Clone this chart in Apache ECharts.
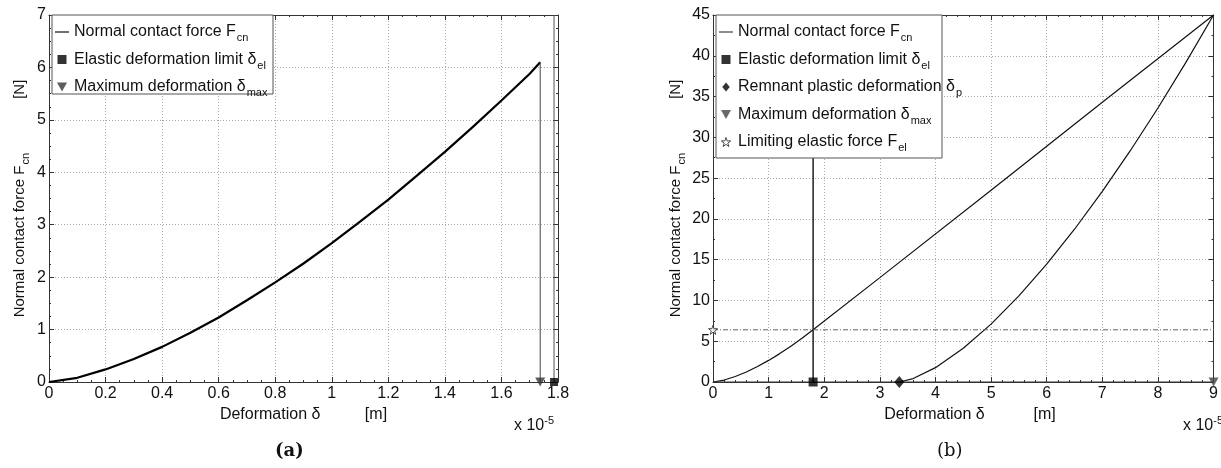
<!DOCTYPE html>
<html>
<head>
<meta charset="utf-8">
<script src="https://cdn.jsdelivr.net/npm/echarts@6/dist/echarts.min.js"></script>
<style>
  html, body { margin: 0; padding: 0; background: #fff; }
  #main { width: 1221px; height: 468px; }
</style>
</head>
<body>
<div id="main"></div>
<script>
// (a) elastic contact: loading curve (x 1e-5 m, N)
var deltaA = [0, 0.1, 0.2, 0.3, 0.4, 0.5, 0.6, 0.7, 0.8, 0.9, 1.0, 1.1, 1.2, 1.3, 1.4, 1.5, 1.6, 1.7, 1.737];
var forceA = [0, 0.08, 0.24, 0.44, 0.67, 0.94, 1.23, 1.56, 1.9, 2.26, 2.65, 3.06, 3.48, 3.93, 4.39, 4.87, 5.37, 5.88, 6.1];
var deltaMaxA = 1.737;
var deltaElA = 1.786;

// (b) elasto-plastic contact
var deltaLoadB = [0, 0.2, 0.4, 0.6, 0.8, 1.0, 1.2, 1.4, 1.6, 1.8, 3, 5, 7, 9];
var forceLoadB = [0, 0.24, 0.67, 1.23, 1.9, 2.65, 3.48, 4.39, 5.36, 6.4, 12.8, 23.5, 34.3, 45];
var deltaUnloadB = [3.35, 3.6, 4.0, 4.5, 5.0, 5.5, 6.0, 6.5, 7.0, 7.5, 8.0, 8.5, 9.0];
var forceUnloadB = [0, 0.42, 1.76, 4.13, 7.1, 10.56, 14.45, 18.73, 23.37, 28.33, 33.6, 39.16, 45];
var deltaElB = 1.8;
var deltaPB = 3.35;
var deltaMaxB = 9;
var forceElB = 6.4;

var FONT = '"Liberation Sans", Arial, sans-serif';
var rich = {
    sub: { fontSize: 11, fontFamily: FONT, padding: [11, 0, 0, 1] },
    sup: { fontSize: 11, fontFamily: FONT, padding: [0, 0, 10, 0] }
};
var richLeg = {
    sub: { fontSize: 11, fontFamily: FONT, padding: [12, 0, 0, 1] }
};

function pairs(xs, ys) {
    return xs.map(function (x, i) { return [x, ys[i]]; });
}

var lineIcon = 'path://M0,0H20V1.6H0Z';
var square = 'path://M0,0H10V10H0Z';
var diamond = 'path://M5,0L10,6L5,12L0,6Z';
var triDown = 'path://M0,0L10,0L5,9Z';
var star = 'path://M5,0L6.2,3.6L10,3.6L6.9,5.9L8.1,9.5L5,7.3L1.9,9.5L3.1,5.9L0,3.6L3.8,3.6Z';

var legendNames = {
    'Fcn': 'Normal contact force F{sub|cn}',
    'del': 'Elastic deformation limit δ{sub|el}',
    'dp': 'Remnant plastic deformation δ{sub|p}',
    'dmax': 'Maximum deformation δ{sub|max}',
    'Fel': 'Limiting elastic force F{sub|el}'
};

var gridLine = { show: true, lineStyle: { color: '#aaa', type: [1, 2], width: 1 } };
var axisLineStyle = { show: true, onZero: false, lineStyle: { color: '#333', width: 1 } };

function xAxes(gi, max, interval, minorSplit, nameStr) {
    return [{
        gridIndex: gi, type: 'value', min: 0, max: max, interval: interval, position: 'bottom',
        axisLine: axisLineStyle,
        axisTick: { inside: true, length: 5, lineStyle: { color: '#333' } },
        minorTick: { show: true, splitNumber: minorSplit, length: 2, lineStyle: { color: '#333' } },
        splitLine: gridLine,
        axisLabel: { color: '#111', fontSize: 16, fontFamily: FONT, margin: 4 },
        name: nameStr, nameLocation: 'middle', nameGap: 14,
        nameTextStyle: { color: '#111', fontSize: 16, fontFamily: FONT }
    }, {
        gridIndex: gi, type: 'value', min: 0, max: max, interval: interval, position: 'top',
        axisLine: axisLineStyle,
        axisTick: { inside: true, length: 5, lineStyle: { color: '#333' } },
        minorTick: { show: true, splitNumber: minorSplit, length: 2, lineStyle: { color: '#333' } },
        splitLine: { show: false }, axisLabel: { show: false }
    }];
}

function yAxes(gi, max, interval, minorSplit, nameStr, gap) {
    return [{
        gridIndex: gi, type: 'value', min: 0, max: max, interval: interval, position: 'left',
        axisLine: axisLineStyle,
        axisTick: { inside: true, length: 5, lineStyle: { color: '#333' } },
        minorTick: { show: true, splitNumber: minorSplit, length: 2, lineStyle: { color: '#333' } },
        splitLine: gridLine,
        axisLabel: { color: '#111', fontSize: 16, fontFamily: FONT, margin: 3 },
        name: nameStr, nameLocation: 'middle', nameGap: gap, nameRotate: 90,
        nameTextStyle: { color: '#111', fontSize: 15, fontFamily: FONT, rich: rich }
    }, {
        gridIndex: gi, type: 'value', min: 0, max: max, interval: interval, position: 'right',
        axisLine: axisLineStyle,
        axisTick: { inside: true, length: 5, lineStyle: { color: '#333' } },
        minorTick: { show: true, splitNumber: minorSplit, length: 2, lineStyle: { color: '#333' } },
        splitLine: { show: false }, axisLabel: { show: false }
    }];
}

var legendBase = {
    orient: 'vertical', top: 15, itemWidth: 14, itemHeight: 9, symbolKeepAspect: true,
    itemGap: 8, padding: [9, 4, 2, 3], zlevel: 1, z: 2,
    textStyle: { color: '#111', fontSize: 16, fontFamily: FONT, rich: richLeg }
};

var myChart = echarts.init(document.getElementById('main'));
var option = {
    animation: false,
    backgroundColor: '#fff',
    grid: [
        { left: 49, top: 15, width: 509, height: 367 },
        { left: 713, top: 15, width: 506, height: 367 }
    ],
    xAxis: xAxes(0, 1.8, 0.2, 4, 'Deformation δ          [m]')
        .concat(xAxes(1, 9, 1, 5, '   Deformation δ           [m]')),
    yAxis: yAxes(0, 7, 1, 4, 'Normal contact force F{sub|cn}             [N]', 18)
        .concat(yAxes(1, 45, 5, 2, 'Normal contact force F{sub|cn}             [N]', 26)),
    legend: [echarts.util.merge({
        left: 52,
        data: [
            { name: 'Fcn', icon: lineIcon, itemStyle: { color: '#000' } },
            { name: 'del', icon: square },
            { name: 'dmax', icon: triDown }
        ],
        formatter: function (n) { return legendNames[n]; }
    }, legendBase), echarts.util.merge({
        left: 716,
        data: [
            { name: 'Fcn ', icon: lineIcon, itemStyle: { color: '#333' } },
            { name: 'del ', icon: square },
            { name: 'dp', icon: diamond },
            { name: 'dmax ', icon: triDown },
            { name: 'Fel', icon: star, itemStyle: { color: '#fff', borderColor: '#222', borderWidth: 1 } }
        ],
        formatter: function (n) { return legendNames[n.trim()]; }
    }, legendBase)],
    series: [
        // ---- (a)
        {
            name: 'Fcn', type: 'line', xAxisIndex: 0, yAxisIndex: 0, symbol: 'none',
            data: pairs(deltaA, forceA), lineStyle: { color: '#000', width: 2.2 }, color: '#000'
        },
        {
            type: 'line', xAxisIndex: 0, yAxisIndex: 0, symbol: 'none', silent: true,
            data: [[deltaMaxA, forceA[forceA.length - 1]], [deltaMaxA, 0]],
            lineStyle: { color: '#444', width: 1 }
        },
        {
            type: 'line', xAxisIndex: 0, yAxisIndex: 0, symbol: 'none', silent: true,
            data: [[deltaElA, 0], [deltaElA, 7]],
            lineStyle: { color: '#555', width: 1 }
        },
        {
            name: 'del', type: 'scatter', xAxisIndex: 0, yAxisIndex: 0, symbol: 'rect', symbolSize: 8,
            data: [[deltaElA, 0]], itemStyle: { color: '#000' }, z: 5
        },
        {
            name: 'dmax', type: 'scatter', xAxisIndex: 0, yAxisIndex: 0, symbol: triDown, symbolSize: [10, 9],
            data: [[deltaMaxA, 0]], itemStyle: { color: '#333' }, z: 5
        },
        // ---- (b)
        {
            name: 'Fcn ', type: 'line', xAxisIndex: 2, yAxisIndex: 2, symbol: 'none',
            data: pairs(deltaLoadB, forceLoadB), lineStyle: { color: '#111', width: 1.2 }, color: '#111'
        },
        {
            type: 'line', xAxisIndex: 2, yAxisIndex: 2, symbol: 'none', silent: true,
            data: pairs(deltaUnloadB, forceUnloadB), lineStyle: { color: '#111', width: 1.2 }
        },
        {
            type: 'line', xAxisIndex: 2, yAxisIndex: 2, symbol: 'none', silent: true,
            data: [[deltaElB, 0], [deltaElB, 45]],
            lineStyle: { color: '#111', width: 1.4 }
        },
        {
            type: 'line', xAxisIndex: 2, yAxisIndex: 2, symbol: 'none', silent: true,
            data: [[0, forceElB], [deltaMaxB, forceElB]],
            lineStyle: { color: '#666', width: 1, type: [5, 2, 1, 2] }
        },
        {
            type: 'line', xAxisIndex: 2, yAxisIndex: 2, symbol: 'none', silent: true,
            data: [[0, 0], [deltaMaxB, 0]],
            lineStyle: { color: '#333', width: 1.2 }
        },
        {
            name: 'del ', type: 'scatter', xAxisIndex: 2, yAxisIndex: 2, symbol: 'rect', symbolSize: 9,
            data: [[deltaElB, 0]], itemStyle: { color: '#000' }, z: 5
        },
        {
            name: 'dp', type: 'scatter', xAxisIndex: 2, yAxisIndex: 2, symbol: 'diamond', symbolSize: [10, 12],
            data: [[deltaPB, 0]], itemStyle: { color: '#000' }, z: 5
        },
        {
            name: 'dmax ', type: 'scatter', xAxisIndex: 2, yAxisIndex: 2, symbol: triDown, symbolSize: [10, 9],
            data: [[deltaMaxB, 0]], itemStyle: { color: '#444' }, z: 5
        },
        {
            name: 'Fel', type: 'scatter', xAxisIndex: 2, yAxisIndex: 2, symbol: star, symbolSize: 9,
            data: [[0, forceElB]], itemStyle: { color: '#fff', borderColor: '#222', borderWidth: 1 }, z: 5
        }
    ],
    graphic: [
        // legend frames (MATLAB draws them a bit narrower than the text in (b))
        {
            type: 'rect', zlevel: 1, z: 1, shape: { x: 52, y: 15, width: 221, height: 79 },
            style: { fill: '#fff', stroke: '#555', lineWidth: 1 }
        },
        {
            type: 'rect', zlevel: 1, z: 1, shape: { x: 716, y: 15, width: 226, height: 143 },
            style: { fill: '#fff', stroke: '#555', lineWidth: 1 }
        },
        {
            type: 'text', left: 514, top: 415,
            style: { text: 'x 10{sup|-5}', fill: '#111', font: '16px ' + FONT, rich: rich }
        },
        {
            type: 'text', left: 1183, top: 415,
            style: { text: 'x 10{sup|-5}', fill: '#111', font: '16px ' + FONT, rich: rich }
        },
        {
            type: 'text', left: 275, top: 442,
            style: { text: '(a)', fill: '#111', font: 'bold 18px "DejaVu Serif", serif' }
        },
        {
            type: 'text', left: 937, top: 442,
            style: { text: '(b)', fill: '#111', font: '18px "DejaVu Serif", serif' }
        }
    ]
};
myChart.setOption(option);
</script>
</body>
</html>
